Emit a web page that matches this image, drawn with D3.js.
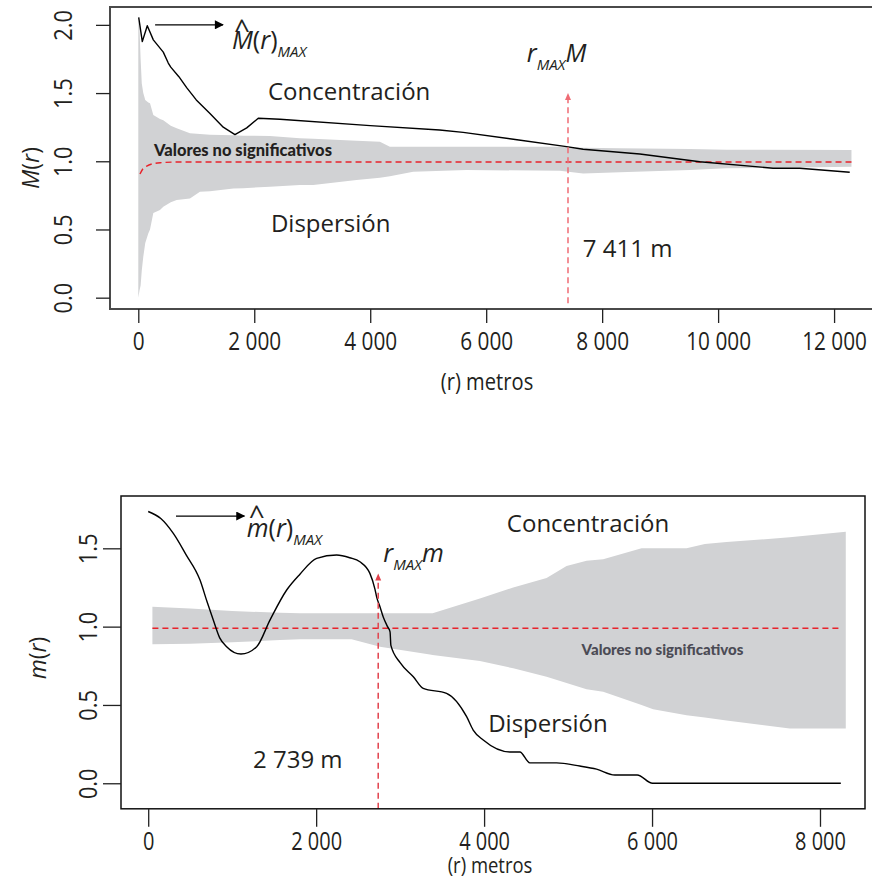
<!DOCTYPE html>
<html>
<head>
<meta charset="utf-8">
<script src="https://cdn.jsdelivr.net/npm/d3@7"></script>
<style>
  body { margin: 0; background: #fff; }
</style>
</head>
<body>
<div id="chart"></div>
<script>
// ---------- panel superior: M(r) ----------
var topLineR = [7, 69, 155, 259, 431, 517, 560, 700, 834, 1000, 1236, 1465, 1667, 1870, 2069, 2443, 4000, 5197, 5603, 6500, 7386, 7672, 8650, 9684, 10948, 11408, 12270];
var topLineM = [2.055, 1.877, 1.994, 1.89, 1.80, 1.72, 1.69, 1.62, 1.54, 1.45, 1.35, 1.25, 1.196, 1.245, 1.315, 1.308, 1.261, 1.229, 1.212, 1.16, 1.107, 1.088, 1.053, 0.997, 0.949, 0.949, 0.919];

var topEnvR  = [0, 20, 40, 60, 86, 120, 172, 202, 259, 374, 431, 560, 662, 891, 1063, 1236, 1640, 1810, 2270, 2787, 3017, 3765, 4167, 4339, 4741, 5661, 7270, 7672, 8305, 9512, 10144, 12300];
var topEnvHi = [2.05, 1.98, 1.75, 1.57, 1.50, 1.45, 1.43, 1.425, 1.34, 1.31, 1.30, 1.26, 1.242, 1.205, 1.20, 1.195, 1.19, 1.188, 1.185, 1.168, 1.165, 1.15, 1.144, 1.107, 1.107, 1.107, 1.107, 1.10, 1.095, 1.09, 1.085, 1.083];
var topEnvLo = [0.0, 0.05, 0.09, 0.20, 0.30, 0.40, 0.47, 0.50, 0.62, 0.643, 0.667, 0.70, 0.716, 0.728, 0.777, 0.78, 0.80, 0.802, 0.814, 0.826, 0.826, 0.863, 0.88, 0.89, 0.924, 0.936, 0.93, 0.91, 0.92, 0.936, 0.948, 0.96];

var topMeanR = [29, 80, 145, 250, 400, 700, 12300];
var topMean  = [0.907, 0.945, 0.965, 0.982, 0.99, 0.995, 0.995];

var topTicksX = [0, 2000, 4000, 6000, 8000, 10000, 12000];
var topTickLabelsX = ["0", "2 000", "4 000", "6 000", "8 000", "10 000", "12 000"];
var topTicksY = [0, 0.5, 1, 1.5, 2];
var topTickLabelsY = ["0.0", "0.5", "1.0", "1.5", "2.0"];
var topRmax = 7411;

// ---------- panel inferior: m(r) ----------
var botLineR = [0, 150, 299, 450, 617, 700, 775, 850, 934, 1105, 1292, 1450, 1649, 1807, 2006, 2244, 2400, 2521, 2640, 2700, 2720, 2760, 2800, 2850, 2880, 2890, 3000, 3157, 3275, 3553, 3792, 3870, 3990, 4307, 4426, 4545, 4863, 5140, 5339, 5557, 5823, 6006, 8248];
var botLineM = [1.735, 1.69, 1.595, 1.46, 1.297, 1.16, 1.042, 0.93, 0.872, 0.825, 0.872, 1.042, 1.234, 1.335, 1.436, 1.457, 1.44, 1.414, 1.34, 1.24, 1.19, 1.127, 1.06, 1.0, 0.967, 0.88, 0.77, 0.68, 0.606, 0.574, 0.425, 0.34, 0.276, 0.2, 0.2, 0.13, 0.13, 0.11, 0.09, 0.053, 0.053, 0.0, 0.0];

var botEnvR  = [50, 500, 1000, 1569, 1807, 2422, 2760, 3355, 3387, 3950, 4347, 4744, 4982, 5220, 5418, 5875, 6013, 6411, 6629, 6887, 7640, 8307];
var botEnvHi = [1.127, 1.115, 1.10, 1.088, 1.085, 1.085, 1.085, 1.085, 1.085, 1.18, 1.25, 1.31, 1.387, 1.42, 1.43, 1.50, 1.50, 1.50, 1.527, 1.54, 1.57, 1.606];
var botEnvLo = [0.887, 0.89, 0.90, 0.915, 0.919, 0.919, 0.872, 0.822, 0.819, 0.78, 0.734, 0.68, 0.64, 0.60, 0.585, 0.50, 0.472, 0.434, 0.42, 0.40, 0.35, 0.35];

var botMeanR = [50, 8248];
var botMean  = [0.99, 0.99];

var botTicksX = [0, 2000, 4000, 6000, 8000];
var botTickLabelsX = ["0", "2 000", "4 000", "6 000", "8 000"];
var botTicksY = [0, 0.5, 1, 1.5];
var botTickLabelsY = ["0.0", "0.5", "1.0", "1.5"];
var botRmax = 2739;

// no condensed font installed: Open Sans squeezed horizontally
var tickFont = "'Open Sans', 'Noto Sans', sans-serif";
var textFont = "'Open Sans', 'Noto Sans', sans-serif";
var boldFont = "Lato, 'Open Sans', sans-serif";
var ink = "#231f20";

var width = 872, height = 881;

var svg = d3.select("#chart").append("svg")
  .attr("width", width)
  .attr("height", height)
  .style("display", "block");

svg.append("rect").attr("width", width).attr("height", height).attr("fill", "white");

svg.append("defs").append("marker")
  .attr("id", "blackHead")
  .attr("viewBox", "0 0 10 10")
  .attr("refX", 9).attr("refY", 5)
  .attr("markerWidth", 13).attr("markerHeight", 9)
  .attr("markerUnits", "userSpaceOnUse")
  .attr("orient", "auto")
  .append("path").attr("d", "M0,0 L10,5 L0,10 Z").attr("fill", "black");

function drawPanel(p) {
  var x = d3.scaleLinear().domain(p.xDomain).range([p.left, p.right]);
  var y = d3.scaleLinear().domain(p.yDomain).range([p.bottom, p.top]);
  var g = svg.append("g");

  var env = p.envR.map(function(r, i) { return {r: r, lo: p.envLo[i], hi: p.envHi[i]}; });
  g.append("path")
    .datum(env)
    .attr("fill", "#d1d2d4")
    .attr("d", d3.area()
      .x(function(d) { return x(d.r); })
      .y0(function(d) { return y(d.lo); })
      .y1(function(d) { return y(d.hi); }));

  var mean = p.meanR.map(function(r, i) { return [r, p.mean[i]]; });
  g.append("path")
    .datum(mean)
    .attr("fill", "none")
    .attr("stroke", "#e8232b")
    .attr("stroke-width", 1.4)
    .attr("stroke-dasharray", "6,4")
    .attr("d", d3.line().curve(d3.curveMonotoneX)
      .x(function(d) { return x(d[0]); })
      .y(function(d) { return y(d[1]); }));

  var line = p.lineR.map(function(r, i) { return [r, p.lineM[i]]; });
  g.append("path")
    .datum(line)
    .attr("fill", "none")
    .attr("stroke", "black")
    .attr("stroke-width", 1.4)
    .attr("stroke-linejoin", "round")
    .attr("d", d3.line().curve(p.curve)
      .x(function(d) { return x(d[0]); })
      .y(function(d) { return y(d[1]); }));

  // r max: flecha vertical roja
  var ax = x(p.rmax);
  g.append("line")
    .attr("x1", ax).attr("x2", ax)
    .attr("y1", y(p.rmaxFrom)).attr("y2", y(p.rmaxTo) + 6)
    .attr("stroke", p.rmaxColor)
    .attr("stroke-width", 1.5)
    .attr("stroke-dasharray", "6,4");
  g.append("path")
    .attr("d", "M" + (ax - 3) + "," + (y(p.rmaxTo) + 7) + " L" + ax + "," + y(p.rmaxTo) + " L" + (ax + 3) + "," + (y(p.rmaxTo) + 7) + " Z")
    .attr("fill", p.rmaxColor);

  // flecha negra hacia el maximo
  g.append("line")
    .attr("x1", x(p.arrow[0])).attr("x2", x(p.arrow[1]))
    .attr("y1", y(p.arrow[2])).attr("y2", y(p.arrow[2]))
    .attr("stroke", "black").attr("stroke-width", 1.3)
    .attr("marker-end", "url(#blackHead)");

  // caja
  g.append("rect")
    .attr("x", p.left).attr("y", p.top)
    .attr("width", p.right - p.left).attr("height", p.bottom - p.top)
    .attr("fill", "none")
    .attr("stroke", p.boxColor)
    .attr("stroke-width", p.boxWidth);

  // ejes
  var xAxis = g.append("g")
    .attr("transform", "translate(0," + p.bottom + ")")
    .call(d3.axisBottom(x).tickValues(p.ticksX)
      .tickFormat(function(d, i) { return p.tickLabelsX[i]; })
      .tickSize(p.tickLen).tickPadding(0));
  xAxis.select(".domain").remove();
  xAxis.selectAll("line").attr("stroke", "#222").attr("stroke-width", 1.3);
  xAxis.selectAll("text")
    .attr("y", p.xLabelY).attr("dy", null)
    .attr("transform", "scale(0.8,1)")
    .attr("fill", "#231f20")
    .style("font-family", tickFont).style("font-size", p.tickFontSize + "px");

  var yAxis = g.append("g")
    .attr("transform", "translate(" + p.left + ",0)")
    .call(d3.axisLeft(y).tickValues(p.ticksY)
      .tickFormat(function(d, i) { return p.tickLabelsY[i]; })
      .tickSize(p.tickLen));
  yAxis.select(".domain").remove();
  yAxis.selectAll("line").attr("stroke", "#222").attr("stroke-width", 1.3);
  yAxis.selectAll("text")
    .attr("x", 0).attr("y", -p.yLabelX).attr("dy", null)
    .attr("transform", "rotate(-90) scale(0.84,1)")
    .attr("text-anchor", "middle")
    .attr("fill", "#231f20")
    .style("font-family", tickFont).style("font-size", "26px");

  // titulos de ejes
  g.append("text")
    .attr("transform", "translate(" + ((p.left + Math.min(p.right, width)) / 2 + p.xTitleShift) + "," + (p.bottom + p.xTitleY) + ") scale(0.84,1)")
    .attr("text-anchor", "middle")
    .attr("fill", ink)
    .style("font-family", tickFont).style("font-size", p.titleSize + "px")
    .text("(r) metros");

  var yt = g.append("text")
    .attr("transform", "translate(" + p.yTitleX + "," + p.yTitleY + ") rotate(-90)")
    .attr("text-anchor", "middle")
    .attr("fill", ink)
    .style("font-family", textFont).style("font-size", "23px");
  yt.append("tspan").style("font-style", "italic").text(p.yName);
  yt.append("tspan").text("(");
  yt.append("tspan").style("font-style", "italic").text("r");
  yt.append("tspan").text(")");

  // anotaciones
  function plain(txt, r, v, size, font, weight, color) {
    g.append("text")
      .attr("x", x(r)).attr("y", y(v))
      .attr("fill", color || ink)
      .style("font-family", font || textFont)
      .style("font-size", size + "px")
      .style("font-weight", weight || "normal")
      .text(txt);
  }
  plain("Concentración", p.conc[0], p.conc[1], 24);
  plain("Dispersión", p.disp[0], p.disp[1], 24);
  plain("Valores no significativos", p.vals[0], p.vals[1], p.valsSize, boldFont, "900", p.valsColor);
  plain(p.rmaxLabel, p.dist[0], p.dist[1], 24);

  // r_MAX M
  var rm = g.append("text")
    .attr("x", x(p.rlab[0])).attr("y", y(p.rlab[1]))
    .attr("fill", ink)
    .style("font-family", textFont).style("font-size", "25px")
    .style("font-style", "italic");
  rm.append("tspan").text("r");
  rm.append("tspan").attr("dy", 8).style("font-size", "15px").text("MAX");
  rm.append("tspan").attr("dy", -8).text(p.yName);

  // M^(r)_MAX, el acento va en el mismo texto
  var hx = x(p.hat[0]), hy = y(p.hat[1]);
  var hl = g.append("text")
    .attr("x", hx).attr("y", hy)
    .attr("fill", ink)
    .style("font-family", textFont).style("font-size", "25px");
  hl.append("tspan").style("font-style", "italic").text(p.yName);
  hl.append("tspan").text("(");
  hl.append("tspan").style("font-style", "italic").text("r");
  hl.append("tspan").text(")");
  hl.append("tspan").attr("dy", 8).style("font-size", "15px").style("font-style", "italic").text("MAX");
  hl.append("tspan")
    .attr("x", hx + p.hatDx - 7).attr("y", hy - p.hatDy)
    .style("font-size", "28px")
    .text("^");

  return g;
}

drawPanel({
  left: 110, right: 880, top: 7, bottom: 309,
  xDomain: [-488, 12792], yDomain: [-0.083, 2.131],
  envR: topEnvR, envHi: topEnvHi, envLo: topEnvLo,
  meanR: topMeanR, mean: topMean,
  lineR: topLineR, lineM: topLineM, curve: d3.curveLinear,
  rmax: topRmax, rmaxFrom: -0.04, rmaxTo: 1.5, rmaxColor: "#ef6b74",
  arrow: [290, 1460, 2.0],
  boxColor: "#4a4a4a", boxWidth: 2,
  ticksX: topTicksX, tickLabelsX: topTickLabelsX,
  ticksY: topTicksY, tickLabelsY: topTickLabelsY,
  tickLen: 14, xLabelY: 41, yLabelX: 38, tickFontSize: 26,
  xTitleShift: -4, xTitleY: 81, titleSize: 24,
  yTitleX: 39, yTitleY: 168, yName: "M",
  conc: [2236, 1.449], disp: [2288, 0.482],
  vals: [271, 1.039], valsSize: 16.5, valsColor: "#231f20",
  dist: [7667, 0.30], rmaxLabel: "7 411 m",
  rlab: [6700, 1.728],
  hat: [1615, 1.823], hatDx: 9, hatDy: 10
});

drawPanel({
  left: 121, right: 865, top: 496, bottom: 808.8,
  xDomain: [-324, 8536], yDomain: [-0.163, 1.834],
  envR: botEnvR, envHi: botEnvHi, envLo: botEnvLo,
  meanR: botMeanR, mean: botMean,
  lineR: botLineR, lineM: botLineM, curve: d3.curveMonotoneX,
  rmax: botRmax, rmaxFrom: -0.163, rmaxTo: 1.34, rmaxColor: "#e2424c",
  arrow: [331, 1145, 1.706],
  boxColor: "#111", boxWidth: 1.5,
  ticksX: botTicksX, tickLabelsX: botTickLabelsX,
  ticksY: botTicksY, tickLabelsY: botTickLabelsY,
  tickLen: 18, xLabelY: 41, yLabelX: 24, tickFontSize: 25,
  xTitleShift: -3, xTitleY: 64, titleSize: 22,
  yTitleX: 46, yTitleY: 658, yName: "m",
  conc: [4271, 1.606], disp: [4049, 0.329],
  vals: [5161, 0.819], valsSize: 15, valsColor: "#4b4b55",
  dist: [1248, 0.098], rmaxLabel: "2 739 m",
  rlab: [2799, 1.414],
  hat: [1173, 1.572], hatDx: 9, hatDy: 12
});
</script>
</body>
</html>
